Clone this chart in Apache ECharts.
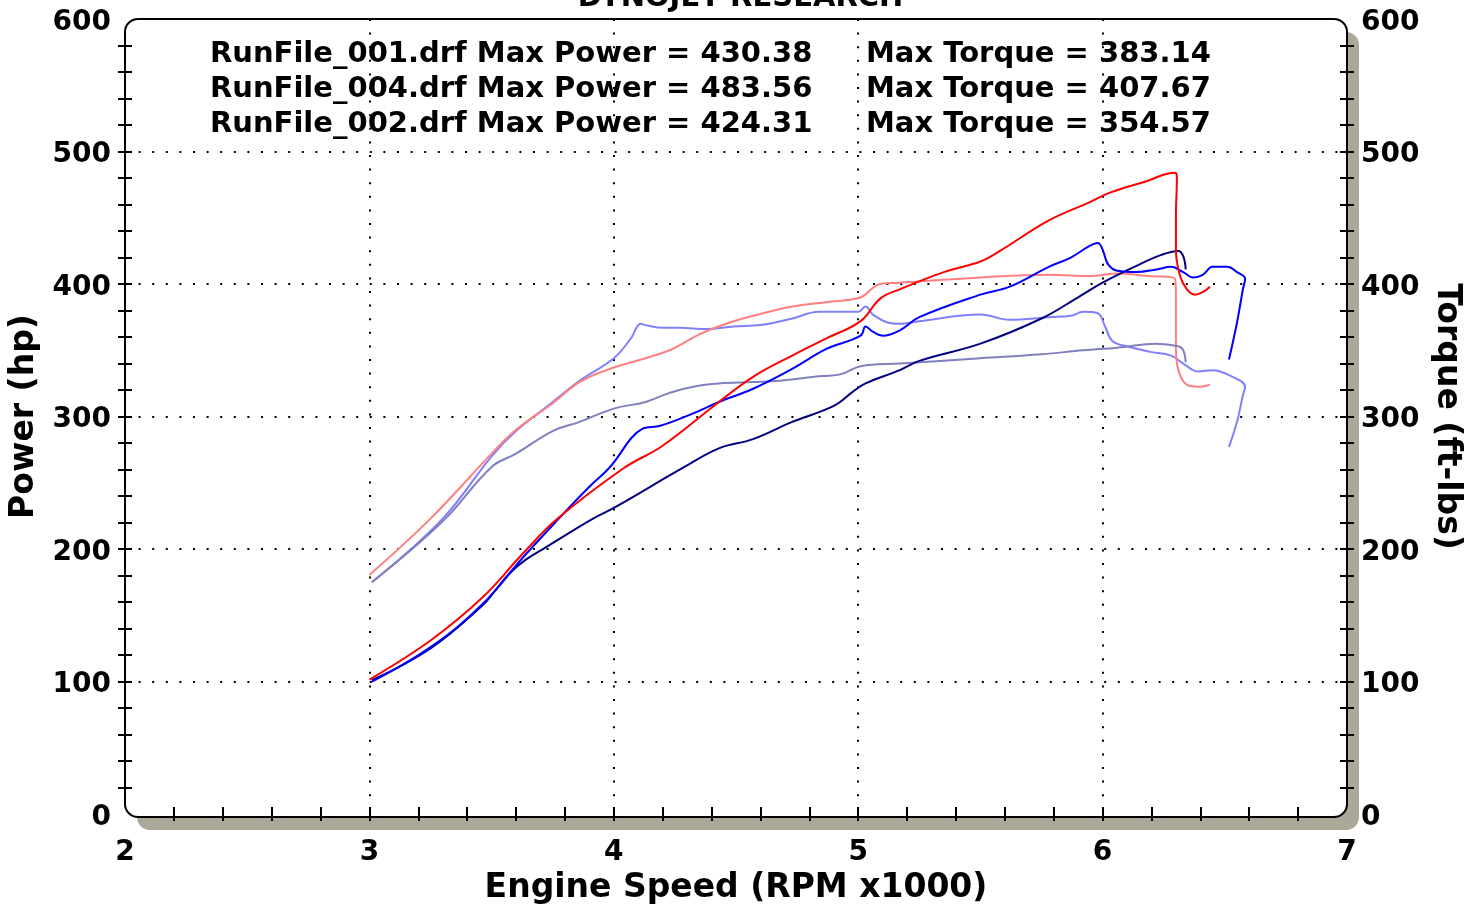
<!DOCTYPE html>
<html>
<head>
<meta charset="utf-8">
<title>Dynojet Research</title>
<script src="https://cdn.jsdelivr.net/npm/echarts@6/dist/echarts.min.js"></script>
<style>
  html, body { margin: 0; padding: 0; background: #fff; }
  #chart { width: 1481px; height: 910px; }
</style>
</head>
<body>
<div id="chart"></div>
<script>
// run summary, as printed in the header
const runNames = ['RunFile_001.drf', 'RunFile_004.drf', 'RunFile_002.drf'];
const maxPower = ['430.38', '483.56', '424.31'];
const maxTorque = ['383.14', '407.67', '354.57'];

// axis ticks
const rpmTicks = [2, 3, 4, 5, 6, 7];
const valueTicks = [0, 100, 200, 300, 400, 500, 600];

// [rpm x1000, hp]
const run001Power = [[3.01,100],[3.25,126],[3.46,158],[3.63,194],[3.77,222],[3.9,247],[3.98,261],[4.12,291],[4.19,293],[4.32,302],[4.43,311],[4.57,321],[4.73,336],[4.87,351],[5.01,361],[5.03,368],[5.06,364],[5.1,361],[5.17,365],[5.25,375],[5.5,392],[5.62,398],[5.78,413],[5.87,420],[5.94,428],[5.98,431],[6.0,426],[6.022,415],[6.06,410],[6.14,409],[6.22,411],[6.28,413],[6.33,409],[6.37,405],[6.41,407],[6.45,413],[6.51,413],[6.55,409],[6.583,404],[6.574,396],[6.55,371],[6.517,343]];
const run004Power = [[3.0,101.5],[3.25,131],[3.46,163],[3.63,197],[3.77,223],[4.04,261],[4.2,278],[4.43,311],[4.57,330],[4.73,346],[4.87,359],[5.01,372],[5.09,389],[5.17,396],[5.35,409],[5.5,417],[5.58,425],[5.78,448],[5.95,462],[6.03,469],[6.17,477],[6.296,484],[6.304,481],[6.30,451],[6.30,426],[6.317,406],[6.345,396],[6.378,392],[6.411,394],[6.439,398]];
const run002Power = [[3.01,101],[3.25,125],[3.46,157],[3.52,170],[3.575,182],[3.64,192],[3.71,200],[3.915,223],[4.0,231],[4.28,261],[4.43,276],[4.57,283],[4.73,296],[4.9,308],[4.98,319],[5.03,325],[5.17,335],[5.25,342],[5.5,355],[5.75,374],[5.9,390],[6.0,401],[6.13,413],[6.24,422],[6.31,425],[6.33,421],[6.34,411]];

// [rpm x1000, ft-lbs]
const run001Torque = [[3.01,175],[3.3,223],[3.5,270],[3.6,289],[3.75,311],[3.86,327],[4.0,344],[4.07,359],[4.11,370],[4.13,369],[4.2,367],[4.27,367],[4.38,366],[4.49,368],[4.6,369],[4.73,374],[4.84,379],[5.0,379],[5.03,383],[5.06,377],[5.12,371],[5.17,370],[5.25,372],[5.5,377],[5.62,373],[5.78,375],[5.87,376],[5.92,379],[5.98,378],[6.01,368],[6.04,357],[6.1,353],[6.19,349],[6.28,346],[6.33,340],[6.39,334],[6.45,335],[6.52,331],[6.583,322.5],[6.574,316],[6.55,296],[6.517,277]];
const run004Torque = [[3.0,180.5],[3.25,223],[3.5,272],[3.6,290],[3.75,310],[3.86,326],[4.0,337],[4.13,344],[4.24,351],[4.35,362],[4.46,370],[4.57,376],[4.73,383],[4.9,387],[5.01,390],[5.09,400],[5.17,401],[5.5,405],[5.78,407],[5.95,406],[6.06,408],[6.19,406],[6.296,404],[6.30,389],[6.30,351],[6.317,331],[6.358,323],[6.398,322.5],[6.439,324]];
const run002Torque = [[3.01,175],[3.3,221],[3.5,262],[3.6,272],[3.75,289],[3.86,296],[4.0,306],[4.13,311],[4.23,318],[4.34,323],[4.43,325],[4.57,326],[4.68,327],[4.82,330],[4.93,332],[5.01,338],[5.17,340],[5.5,344],[5.75,347],[5.92,350],[6.06,352],[6.22,355],[6.31,353],[6.33,350],[6.34,341]];

const powerColors = ['#0000ff', '#ff0000', '#000080'];
const torqueColors = ['#8080ff', '#ff8080', '#8080c0'];

// plot box in pixels
const box = { left: 125, top: 19, width: 1222, height: 798 };
const font = 'DejaVu Sans';

const chart = echarts.init(document.getElementById('chart'), null, { renderer: 'canvas' });

const dots = { color: '#000', width: 2, type: [2, 11.6], cap: 'butt' };
const tickStyle = { color: '#000', width: 2 };
const labelStyle = { color: '#000', fontFamily: font, fontWeight: 'bold', fontSize: 28 };
const nameStyle = { color: '#000', fontFamily: font, fontWeight: 'bold', fontSize: 33 };

function xAxisDef(inside, main) {
  return {
    type: 'value', position: 'bottom', offset: 0,
    min: rpmTicks[0], max: rpmTicks[rpmTicks.length - 1], interval: 1,
    axisLine: { show: false },
    axisTick: { show: true, inside: inside, length: 7, lineStyle: tickStyle,
      customValues: rpmTicks.slice(1, -1) },
    minorTick: { show: true, splitNumber: 5, length: 7, lineStyle: tickStyle },
    axisLabel: main ? Object.assign({ margin: 25 }, labelStyle) : { show: false },
    splitLine: main ? { show: true, lineStyle: dots } : { show: false },
    name: main ? 'Engine Speed (RPM x1000)' : '',
    nameLocation: 'middle', nameGap: 57, nameTextStyle: nameStyle
  };
}

function yAxisDef(pos, inside, main, name) {
  return {
    type: 'value', position: pos, offset: 0,
    min: valueTicks[0], max: valueTicks[valueTicks.length - 1], interval: 100,
    axisLine: { show: false },
    axisTick: { show: true, inside: inside, length: 7, lineStyle: tickStyle,
      customValues: valueTicks.slice(1, -1) },
    minorTick: { show: true, splitNumber: 5, length: 7, lineStyle: tickStyle },
    axisLabel: main ? {
      margin: 14,
      formatter: v => '{v|' + v + '}',
      rich: { v: Object.assign({ padding: [7, 0, 0, 0] }, labelStyle) }
    } : { show: false },
    splitLine: (main && pos === 'left') ? { show: true, lineStyle: dots } : { show: false },
    name: main ? name : '',
    nameLocation: 'middle',
    nameGap: pos === 'left' ? 84 : 83,
    nameRotate: pos === 'left' ? 90 : -90,
    nameTextStyle: nameStyle
  };
}

function lineSeries(name, data, color, yIndex) {
  return {
    name: name, type: 'line', data: data,
    xAxisIndex: 0, yAxisIndex: yIndex,
    smooth: 0.4, showSymbol: false, symbol: 'none',
    lineStyle: { color: color, width: 2 },
    itemStyle: { color: color },
    z: 3
  };
}

const headerTexts = [];
runNames.forEach((run, i) => {
  headerTexts.push({
    type: 'text', left: 210, top: 52 + i * 35 - 12,
    style: { text: run + ' Max Power = ' + maxPower[i], fill: '#000',
      font: 'bold 29px "' + font + '"' },
    z: 50
  });
  headerTexts.push({
    type: 'text', left: 866, top: 52 + i * 35 - 12,
    style: { text: 'Max Torque = ' + maxTorque[i], fill: '#000',
      font: 'bold 29px "' + font + '"' },
    z: 50
  });
});

const option = {
  animation: false,
  backgroundColor: '#fff',
  title: {
    text: 'DYNOJET RESEARCH', left: 'center', top: -21,
    textStyle: { color: '#000', fontFamily: font, fontWeight: 'bold', fontSize: 29 }
  },
  grid: { left: box.left, top: box.top, width: box.width, height: box.height, containLabel: false },
  xAxis: [xAxisDef(false, true), xAxisDef(true, false)],
  yAxis: [
    yAxisDef('left', false, true, 'Power (hp)'),
    yAxisDef('right', false, true, 'Torque (ft-lbs)'),
    yAxisDef('left', true, false, ''),
    yAxisDef('right', true, false, '')
  ],
  graphic: [
    { type: 'rect', z: -20, silent: true,
      shape: { x: box.left + 12, y: box.top + 13, width: box.width, height: box.height, r: 13 },
      style: { fill: '#aca899' } },
    { type: 'rect', z: -10, silent: true,
      shape: { x: box.left, y: box.top, width: box.width, height: box.height, r: 13 },
      style: { fill: '#fff' } },
    { type: 'rect', z: 40, silent: true,
      shape: { x: box.left, y: box.top, width: box.width, height: box.height, r: 13 },
      style: { fill: 'none', stroke: '#000', lineWidth: 2 } }
  ].concat(headerTexts),
  series: [
    lineSeries(runNames[0] + ' Torque', run001Torque, torqueColors[0], 1),
    lineSeries(runNames[1] + ' Torque', run004Torque, torqueColors[1], 1),
    lineSeries(runNames[2] + ' Torque', run002Torque, torqueColors[2], 1),
    lineSeries(runNames[2] + ' Power', run002Power, powerColors[2], 0),
    lineSeries(runNames[0] + ' Power', run001Power, powerColors[0], 0),
    lineSeries(runNames[1] + ' Power', run004Power, powerColors[1], 0)
  ]
};

chart.setOption(option);
window.addEventListener('resize', chart.resize);
</script>
</body>
</html>
